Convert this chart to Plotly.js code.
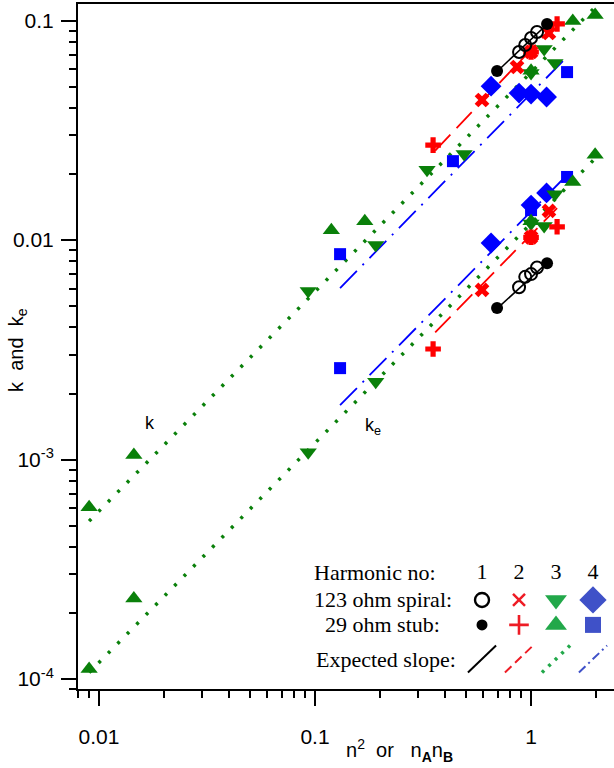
<!DOCTYPE html>
<html><head><meta charset="utf-8">
<script src="https://cdn.plot.ly/plotly-3.0.1.min.js"></script>
<style>html,body{margin:0;padding:0;background:#fff}#chart{width:614px;height:768px}</style>
</head><body><div id="chart"></div>
<script>
// ---------- data ----------
// Harmonic 1, 123 ohm spiral (open black circles)
const spiral1_x  = [0.88, 0.94, 1.0, 1.066];
const spiral1_k  = [0.0720, 0.0775, 0.0834, 0.0888];
const spiral1_ke = [0.0061, 0.0068, 0.0070, 0.0075];
// Harmonic 1, 29 ohm stub (filled black circles)
const stub1_x  = [0.696, 1.186];
const stub1_k  = [0.0590, 0.0966];
const stub1_ke = [0.0049, 0.00785];
// Harmonic 2, spiral (red x)
const spiral2_x  = [0.593, 0.861, 1.0, 1.21];
const spiral2_k  = [0.0435, 0.0615, 0.0720, 0.0879];
const spiral2_ke = [0.00593, null, 0.0103, 0.0136];
// Harmonic 2, stub (red +)
const stub2_x  = [0.352, 1.0, 1.32];
const stub2_k  = [0.0271, 0.0720, 0.0966];
const stub2_ke = [0.00319, 0.0103, 0.0115];
// Harmonic 3, spiral (green down triangles)
const spiral3_x  = [0.093, 0.191, 0.330, 0.490, 1.0, 1.15, 1.29];
const spiral3_k  = [0.00586, 0.0095, 0.0209, 0.0247, 0.0578, 0.0743, 0.0641];
const spiral3_ke = [0.00108, 0.00226, null, null, 0.0119, 0.0116, 0.0162];
// Harmonic 3, stub (green up triangles)
const stub3_x  = [0.009, 0.0145, 0.119, 0.170, 1.0, 1.56, 1.98];
const stub3_k  = [0.000607, 0.00105, 0.0111, 0.0122, 0.0592, 0.0997, 0.106];
const stub3_ke = [0.000111, 0.000233, null, null, 0.0122, 0.0184, 0.0245];
// Harmonic 4, spiral (blue diamonds)
const spiral4_x  = [0.653, 0.88, 1.0, 1.18];
const spiral4_k  = [0.0503, 0.0468, 0.0463, 0.0449];
const spiral4_ke = [0.0097, null, 0.01445, 0.0164];
// Harmonic 4, stub (blue squares)
const stub4_x  = [0.1306, 0.435, 1.0, 1.468];
const stub4_k  = [0.00863, 0.0229, null, 0.0583];
const stub4_ke = [0.00261, null, 0.0137, 0.0194];
// Expected-slope segments (end points)
const slope1_x = [0.70, 1.19];  const slope1_k = [0.0590, 0.0966]; const slope1_ke = [0.0049, 0.0079];
const slope2_x = [0.36, 1.32];  const slope2_k = [0.0256, 0.0982]; const slope2_ke = [0.0038, 0.0140];
const slope3_x = [0.009, 2.0];  const slope3_k = [0.000524, 0.1164]; const slope3_ke = [0.000107, 0.0238];
const slope4_x = [0.1306, 1.468]; const slope4_k = [0.00605, 0.0684]; const slope4_ke = [0.00177, 0.0198];
// Tick labels
const xTickVals = [0.01, 0.1, 1];
const xTickText = ['0.01', '0.1', '1'];
const yTickVals = [1e-4, 1e-3, 0.01, 0.1];
const yTickText = ['10<sup>-4</sup>', '10<sup>-3</sup>', '0.01', '0.1'];
// Legend content
const harmonics = [1, 2, 3, 4];
const legendRows = ['Harmonic no:', '123 ohm spiral:', '29 ohm stub:', 'Expected slope:'];

// ---------- styles ----------
const RED = '#ff0000', GREEN = '#0a800a', BLUE = '#0000ff', BLACK = '#000000';
const LRED = '#ee1c25', LGREEN = '#22a84a', LBLUE = '#3f51c8';
const lineStyles = [
  {color: BLACK, width: 1.6, dash: 'solid'},
  {color: RED,   width: 1.8, dash: '22px,9px'},
  {color: GREEN, width: 3.5, dash: '3px,10.5px'},
  {color: BLUE,  width: 1.8, dash: '24px,8px,2px,8px'}
];
const legendLineStyles = [
  {color: BLACK, width: 2, dash: 'solid'},
  {color: LRED,  width: 2, dash: '9px,5px'},
  {color: LGREEN, width: 3.5, dash: '3px,6px'},
  {color: LBLUE, width: 2, dash: '9px,4px,2px,4px'}
];
const spiralMarkers = [
  {symbol: 'circle-open', size: 12, color: BLACK, line: {width: 2, color: BLACK}},
  {symbol: 'x', size: 13, color: RED, line: {width: 0}},
  {symbol: 'triangle-down', size: 15, color: GREEN, line: {width: 0}},
  {symbol: 'diamond', size: 16, color: BLUE, line: {width: 0}}
];
const stubMarkers = [
  {symbol: 'circle', size: 12, color: BLACK, line: {width: 0}},
  {symbol: 'cross', size: 13, color: RED, line: {width: 0}},
  {symbol: 'triangle-up', size: 15, color: GREEN, line: {width: 0}},
  {symbol: 'square', size: 12, color: BLUE, line: {width: 0}}
];
const legendSpiral = [
  {symbol: 'circle-open', size: 14, color: BLACK, line: {width: 2.4, color: BLACK}},
  {symbol: 'x-thin-open', size: 12, color: LRED, line: {width: 2.5, color: LRED}},
  {symbol: 'triangle-down', size: 19, color: LGREEN, line: {width: 0}},
  {symbol: 'diamond', size: 21, color: LBLUE, line: {width: 0}}
];
const legendStub = [
  {symbol: 'circle', size: 11, color: BLACK, line: {width: 0}},
  {symbol: 'cross-thin-open', size: 14, color: LRED, line: {width: 2.6, color: LRED}},
  {symbol: 'triangle-up', size: 19, color: LGREEN, line: {width: 0}},
  {symbol: 'square', size: 16, color: LBLUE, line: {width: 0}}
];

const slopes = [[slope1_x, slope1_k, slope1_ke], [slope2_x, slope2_k, slope2_ke],
                [slope3_x, slope3_k, slope3_ke], [slope4_x, slope4_k, slope4_ke]];
const spirals = [[spiral1_x, spiral1_k, spiral1_ke], [spiral2_x, spiral2_k, spiral2_ke],
                 [spiral3_x, spiral3_k, spiral3_ke], [spiral4_x, spiral4_k, spiral4_ke]];
const stubs = [[stub1_x, stub1_k, stub1_ke], [stub2_x, stub2_k, stub2_ke],
               [stub3_x, stub3_k, stub3_ke], [stub4_x, stub4_k, stub4_ke]];

const traces = [];
// slope lines
slopes.forEach((s, i) => {
  [s[1], s[2]].forEach(y => traces.push({x: s[0], y: y, mode: 'lines', line: lineStyles[i], hoverinfo: 'skip'}));
});
// markers (draw order: 4,3,2,1 so black on top)
[3, 2, 1, 0].forEach(i => {
  [stubs[i], spirals[i]].forEach((s, j) => {
    const mk = j === 0 ? stubMarkers[i] : spiralMarkers[i];
    [s[1], s[2]].forEach(y => traces.push({x: s[0], y: y, mode: 'markers', marker: mk, cliponaxis: false}));
  });
});

// ---------- legend (inset axes; column = harmonic number) ----------
const serif = 'Liberation Serif, Times New Roman, serif';
const sans = 'Liberation Sans, Arial, sans-serif';
const rowY = [0, 0.94, 1.81, 3];
traces.push({x: harmonics, y: harmonics.map(() => rowY[0]), mode: 'text', text: harmonics.map(String),
  textfont: {family: serif, size: 22, color: '#000'},
  xaxis: 'x2', yaxis: 'y2', hoverinfo: 'skip'});
harmonics.forEach((h, i) => {
  traces.push({x: [h], y: [rowY[1]], mode: 'markers', marker: legendSpiral[i], xaxis: 'x2', yaxis: 'y2'});
  traces.push({x: [h], y: [rowY[2]], mode: 'markers', marker: legendStub[i], xaxis: 'x2', yaxis: 'y2'});
  traces.push({x: [h - 0.38, h + 0.38], y: [rowY[3] + 0.47, rowY[3] - 0.47], mode: 'lines',
    line: legendLineStyles[i], xaxis: 'x2', yaxis: 'y2', hoverinfo: 'skip'});
});

function minorVals(lo, hi) {
  const v = [];
  for (let e = lo; e <= hi; e++) for (let d = 2; d <= 9; d++) v.push(d * Math.pow(10, e));
  return v;
}

const legFont = {family: serif, size: 22, color: '#000'};
const annotations = [
  {xref: 'x2', yref: 'y2', x: -3.6, y: rowY[0], xanchor: 'left', yanchor: 'middle', text: legendRows[0], showarrow: false, font: legFont},
  {xref: 'x2', yref: 'y2', x: -1.68, y: rowY[1], xanchor: 'center', yanchor: 'middle', text: legendRows[1], showarrow: false, font: legFont},
  {xref: 'x2', yref: 'y2', x: -1.68, y: rowY[2], xanchor: 'center', yanchor: 'middle', text: legendRows[2], showarrow: false, font: legFont},
  {xref: 'x2', yref: 'y2', x: -1.6, y: rowY[3], xanchor: 'center', yanchor: 'middle', text: legendRows[3], showarrow: false, font: legFont},
  {xref: 'x', yref: 'y', x: Math.log10(0.0172), y: Math.log10(0.00147), text: 'k', showarrow: false, font: {family: sans, size: 18}},
  {xref: 'x', yref: 'y', x: Math.log10(0.186), y: Math.log10(0.00142), text: 'k<sub>e</sub>', showarrow: false, font: {family: sans, size: 18}},
  {xref: 'paper', yref: 'paper', x: 0.6007, y: -0.0905, xanchor: 'center', yanchor: 'middle',
   text: 'n<sup>2</sup>  or   n<sub><b>A</b></sub>n<sub><b>B</b></sub>', showarrow: false, font: {family: sans, size: 20}},
  {xref: 'paper', yref: 'paper', x: -0.112, y: 0.495, xanchor: 'center', yanchor: 'middle', textangle: -90,
   text: 'k  and  k<sub>e</sub>', showarrow: false, font: {family: sans, size: 20}}
];

const axCommon = {
  type: 'log', tickmode: 'array', ticks: 'outside', ticklen: 15, tickwidth: 2, tickcolor: '#000',
  showline: true, linewidth: 2, linecolor: '#000', showgrid: false, zeroline: false,
  tickfont: {family: sans, size: 21, color: '#000'}
};
const layout = {
  width: 614, height: 768,
  margin: {l: 78, r: 0, t: 4, b: 79},
  paper_bgcolor: 'rgba(0,0,0,0)', plot_bgcolor: 'rgba(0,0,0,0)',
  showlegend: false,
  font: {family: sans, color: '#000'},
  xaxis: Object.assign({}, axCommon, {
    range: [-2.0972, 0.384], tickvals: xTickVals, ticktext: xTickText, mirror: true, ticklabelstandoff: 13,
    minor: {tickmode: 'array', tickvals: minorVals(-3, 0), ticks: 'outside', ticklen: 7, tickwidth: 2, tickcolor: '#000', showgrid: false}
  }),
  yaxis: Object.assign({}, axCommon, {
    range: [-4.0456, -0.924], tickvals: yTickVals, ticktext: yTickText, ticklabelstandoff: 3,
    minor: {tickmode: 'array', tickvals: minorVals(-5, -1), ticks: 'outside', ticklen: 7, tickwidth: 2, tickcolor: '#000', showgrid: false}
  }),
  xaxis2: {domain: [(300 - 78) / 536, 1], range: [-3.92, 4.568], visible: false, fixedrange: true, anchor: 'y2'},
  yaxis2: {domain: [0, 129 / 685], range: [4.046, -0.453], visible: false, fixedrange: true, anchor: 'x2'},
  annotations: annotations
};
Plotly.newPlot('chart', traces, layout, {staticPlot: true, displayModeBar: false});
</script></body></html>
